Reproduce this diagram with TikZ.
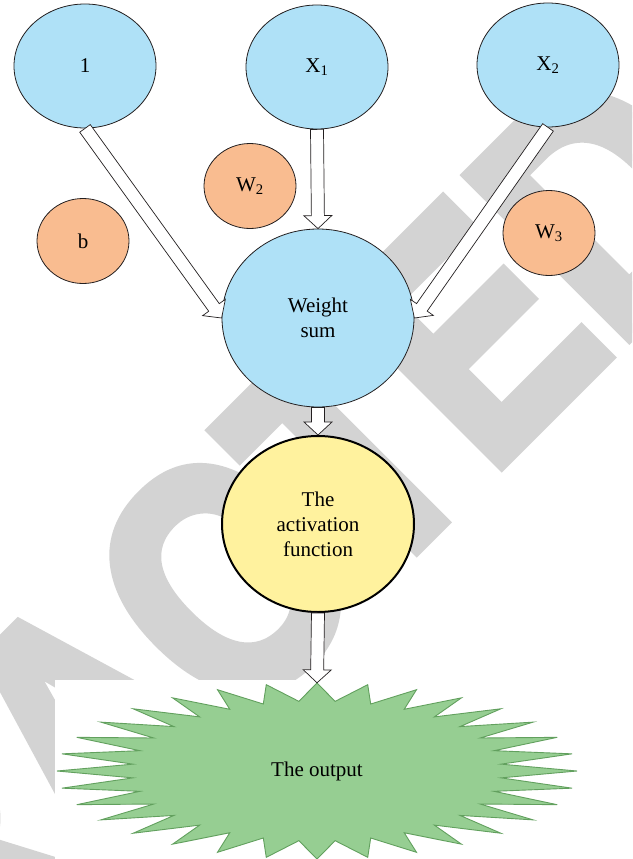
\documentclass[tikz,border=0pt]{standalone}
\usepackage{fontspec}
\setmainfont{Liberation Serif}
\newfontfamily\wmfont{Liberation Sans}[FakeBold=4]
\usetikzlibrary{shapes.geometric,calc}

\definecolor{inblue}{RGB}{175,225,247}
\definecolor{wtorange}{RGB}{249,188,144}
\definecolor{actyellow}{RGB}{255,242,158}
\definecolor{outgreen}{RGB}{150,206,146}
\definecolor{edgegreen}{RGB}{98,160,94}
\definecolor{wmgray}{RGB}{211,211,211}
\definecolor{linec}{RGB}{35,31,32}

% hollow block arrow between two named points
\newcommand{\blockarrow}[2]{%
  \draw[blockarr] ($(#1)!6.5pt!90:(#2)$) -- ($(#2)!13pt!(#1)!6.5pt!-90:(#1)$)
    -- ($(#2)!13pt!(#1)!14pt!-90:(#1)$) -- (#2)
    -- ($(#2)!13pt!(#1)!14pt!90:(#1)$) -- ($(#2)!13pt!(#1)!6.5pt!90:(#1)$)
    -- ($(#1)!6.5pt!-90:(#2)$) -- cycle;}

\begin{document}
\begin{tikzpicture}[x=1pt,y=1pt]
\tikzstyle{every node}+=[inner sep=0pt, font=\fontsize{21}{25}\selectfont]
\tikzstyle{innode}=[ellipse, draw=linec, line width=0.8pt, fill=inblue, minimum width=142pt, minimum height=124pt]
\tikzstyle{wnode}=[ellipse, draw=linec, line width=0.8pt, fill=wtorange, minimum width=92pt, minimum height=85pt]
\tikzstyle{blockarr}=[draw=linec, fill=white, line width=0.7pt, line join=miter]
\tikzstyle{burst}=[fill=outgreen, draw=edgegreen, line width=0.9pt, line join=miter]
\useasboundingbox (0,0) rectangle (632,-859);
% watermark
\begin{scope}
\clip (0,0) rectangle (632,-859);
\node[anchor=base west, rotate=45, xscale=0.82, text=wmgray, font=\wmfont\bfseries\fontsize{330}{330}\selectfont] (stamp) at (-426,-1391) {RETRACTED};
\end{scope}
\fill[white] (55,-680) rectangle (600,-859);
% output star
\draw[burst, shift={(317,-771)}] (90:260 and 88)
  \foreach \k in {1,...,32} { -- ({84.375+11.25*\k}:185 and 70) -- ({90+11.25*\k}:260 and 88) } -- cycle;
\node (out) at (317,-771) [minimum width=520pt, minimum height=176pt] {The output};
% inputs and weights
\node (in1) at (85,-66) [innode] {1};
\node (x1) at (317,-67) [innode] {X\textsubscript{1}};
\node (x2) at (548,-65) [innode] {X\textsubscript{2}};
\node (w2) at (250,-186) [wnode] {W\textsubscript{2}};
\node (b) at (83,-241) [wnode] {b};
\node (w3) at (549,-233) [wnode] {W\textsubscript{3}};
% sum and activation
\node (sum) at (318,-318) [ellipse, draw=linec, line width=0.8pt, fill=inblue, minimum width=192pt, minimum height=178pt, align=center] {Weight\\sum};
\node (act) at (318,-524) [ellipse, draw=black, line width=2pt, fill=actyellow, minimum width=192pt, minimum height=176pt, align=center] {The\\activation\\function};
% arrows
\blockarrow{in1.south}{sum.west}
\blockarrow{x1.south}{sum.north}
\blockarrow{x2.south}{sum.east}
\blockarrow{sum.south}{act.north}
\blockarrow{act.south}{out.north}
\end{tikzpicture}
\end{document}
